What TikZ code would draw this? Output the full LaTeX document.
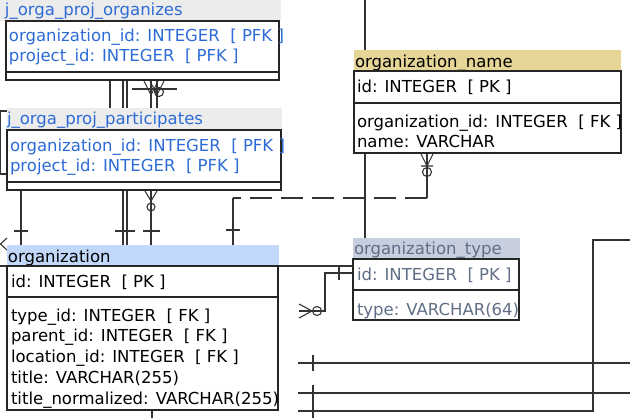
\documentclass[tikz,border=0pt]{standalone}
\usepackage{fontspec}
\setmainfont{DejaVu Sans}
\usetikzlibrary{positioning, calc, backgrounds}

\definecolor{linkblue}{RGB}{45,108,214}
\definecolor{joingray}{RGB}{236,236,236}
\definecolor{namekhaki}{RGB}{229,213,150}
\definecolor{orgblue}{RGB}{194,216,250}
\definecolor{typegray}{RGB}{199,207,222}
\definecolor{typetext}{RGB}{96,110,134}
\definecolor{wirecol}{RGB}{51,51,51}

\begin{document}
\begin{tikzpicture}[x=1pt, y=-1pt, font=\fontsize{16.5}{20}\selectfont,
  tbl/.style={draw=black!85, line width=1.4pt, fill=white, inner sep=0pt, outer sep=0pt, anchor=north west},
  hdr/.style={fill=#1, inner sep=0pt, outer sep=0pt, anchor=north west},
  txt/.style={anchor=base west, inner sep=0pt, outer sep=0pt},
  sepline/.style={draw=black!85, line width=1.4pt},
  wire/.style={draw=wirecol, line width=1.1pt},
  trunk/.style={wire, line width=2.6pt},
  gap/.style={wire, dash pattern=on 22pt off 9pt}]

  \useasboundingbox (0,0) rectangle (630,418);

  % j_orga_proj_organizes
  \node[hdr=joingray, minimum width=281pt, minimum height=21pt] (organizes-head) at (0,0) {};
  \node[txt, text=linkblue] (organizes-title) at (5,15) {j\_orga\_proj\_organizes};
  \node[tbl, minimum width=273pt, minimum height=59pt] (organizes) at (6,21) {};
  \draw[sepline] (6,72) -- (279,72);
  \node[txt, text=linkblue] (organizes-orga) at (9,41) {organization\_id: INTEGER\ \ [ PFK ]};
  \node[txt, text=linkblue] (organizes-proj) at (9,61) {project\_id: INTEGER\ \ [ PFK ]};

  % j_orga_proj_participates
  \node[hdr=joingray, minimum width=275pt, minimum height=22pt] (participates-head) at (7,108) {};
  \node[txt, text=linkblue] (participates-title) at (7,124) {j\_orga\_proj\_participates};
  \node[tbl, minimum width=274pt, minimum height=60pt] (participates) at (7,130) {};
  \draw[sepline] (7,182) -- (281,182);
  \node[txt, text=linkblue] (participates-orga) at (10,151) {organization\_id: INTEGER\ \ [ PFK ]};
  \node[txt, text=linkblue] (participates-proj) at (10,171) {project\_id: INTEGER\ \ [ PFK ]};

  % organization_name
  \node[hdr=namekhaki, minimum width=267pt, minimum height=21pt] (orgname-head) at (354,50) {};
  \node[txt] (orgname-title) at (355,67) {organization\_name};
  \node[tbl, minimum width=267pt, minimum height=82pt] (orgname) at (354,71) {};
  \draw[sepline] (354,103) -- (621,103);
  \node[txt] (orgname-id) at (357,92) {id: INTEGER\ \ [ PK ]};
  \node[txt] (orgname-orga) at (357,127) {organization\_id: INTEGER\ \ [ FK ]};
  \node[txt] (orgname-name) at (357,147) {name: VARCHAR};

  % organization
  \node[hdr=orgblue, minimum width=272pt, minimum height=21pt] (org-head) at (7,245) {};
  \node[txt] (org-title) at (8,262) {organization};
  \node[tbl, minimum width=271pt, minimum height=144pt] (org) at (7,266) {};
  \draw[sepline] (7,297) -- (278,297);
  \node[txt] (org-id) at (11,287) {id: INTEGER\ \ [ PK ]};
  \node[txt] (org-type) at (11,321) {type\_id: INTEGER\ \ [ FK ]};
  \node[txt] (org-parent) at (11,341.5) {parent\_id: INTEGER\ \ [ FK ]};
  \node[txt] (org-location) at (11,362) {location\_id: INTEGER\ \ [ FK ]};
  \node[txt] (org-titlecol) at (11,383) {title: VARCHAR(255)};
  \node[txt] (org-normal) at (11,404) {title\_normalized: VARCHAR(255)};

  % organization_type
  \node[hdr=typegray, minimum width=167pt, minimum height=21pt] (orgtype-head) at (353,238) {};
  \node[txt, text=typetext] (orgtype-title) at (354,254) {organization\_type};
  \node[tbl, minimum width=166pt, minimum height=61pt] (orgtype) at (353,259) {};
  \draw[sepline] (353,290) -- (519,290);
  \node[txt, text=typetext] (orgtype-id) at (357,280) {id: INTEGER\ \ [ PK ]};
  \node[txt, text=typetext] (orgtype-type) at (357,315) {type: VARCHAR(64)};

  \begin{scope}[on background layer]
    % long line from the top edge
    \coordinate (topout) at (365,0);
    \draw[wire] (topout) -- (orgtype-head.north -| topout);

    % organization_name -> organization
    \coordinate (namefoot) at ($(orgname.south west)+(73,0)$);
    \coordinate (orgtop) at ($(org-head.north west)+(226,0)$);
    \draw[wire] (namefoot) -- ++(0,45) coordinate (namebend);
    \draw[gap] (namebend) -- (namebend -| orgtop);
    \draw[wire] (namebend -| orgtop) -- (orgtop);
    \draw[wire] (421,154) -- (427,166) -- (433,154) (421,166) -- (433,166);
    \draw[wire] (427,172) circle (4.5pt);
    \draw[wire] (226,230) -- (240,230);

    % organization_type links
    \coordinate (leftout) at (0,266);
    \draw[wire] (leftout) -- (leftout -| orgtype.west);
    \coordinate (typeid) at ($(orgtype.north west)+(0,14)$);
    \coordinate (typefoot) at (299,311);
    \draw[wire] (typefoot) -- ++(26,0) |- (typeid);
    \draw[wire] (299,304) -- (312,311) -- (299,318);
    \draw[wire] (317,311) circle (4.5pt);
    \draw[wire] (339,266) -- (339,280);

    % lines in the lower right
    \coordinate (low1) at (298,363);
    \coordinate (low2) at (298,393);
    \coordinate (low3) at (298,411);
    \draw[wire] (low1) -- (630,363);
    \draw[wire] (low2) -- (630,393);
    \draw[wire] (low3) -- (593,411) -- (593,240) -- (630,240);
    \draw[wire] (313,355) -- (313,371) (313,385) -- (313,418);

    % left edge
    \draw[wire] (participates-head.north west |- 0,111) -- (0.7,111) -- (0.7,174) -- (7,174);
    \draw[wire] (7,238) -- (0.5,244) -- (7,250);
    \draw[wire] (participates.south west) ++(14,0) -- ++(0,55);
    \draw[wire] (14,231) -- (28,231);

    % join tables -> organization
    \draw[wire] (organizes.south west) ++(104,0) -- ++(0,28);
    \draw[wire] (organizes.south west) ++(117,0) -- ++(0,165);
    \draw[wire] (organizes.south west) ++(121,0) -- ++(0,165);
    \draw[trunk] (organizes.south west) ++(145,0) -- ++(0,165);
    \draw[wire] (organizes.south west) ++(151,0) -- ++(0,28);
    \draw[wire] (132,89) -- (177,89);
    \draw[wire] (144,81) -- (151,95) -- (158,81);
    \draw[wire] (150,81) -- (157,95) -- (164,81);
    \draw[wire] (159,92) circle (4.5pt);
    \draw[wire] (145,191) -- (151,201) -- (157,191);
    \draw[wire] (151,207) circle (4pt);
    \draw[wire] (115,231) -- (135,231) (143,231) -- (160,231);
    \draw[trunk] (org.south west) ++(145,0) -- ++(0,8);
  \end{scope}
\end{tikzpicture}
\end{document}
